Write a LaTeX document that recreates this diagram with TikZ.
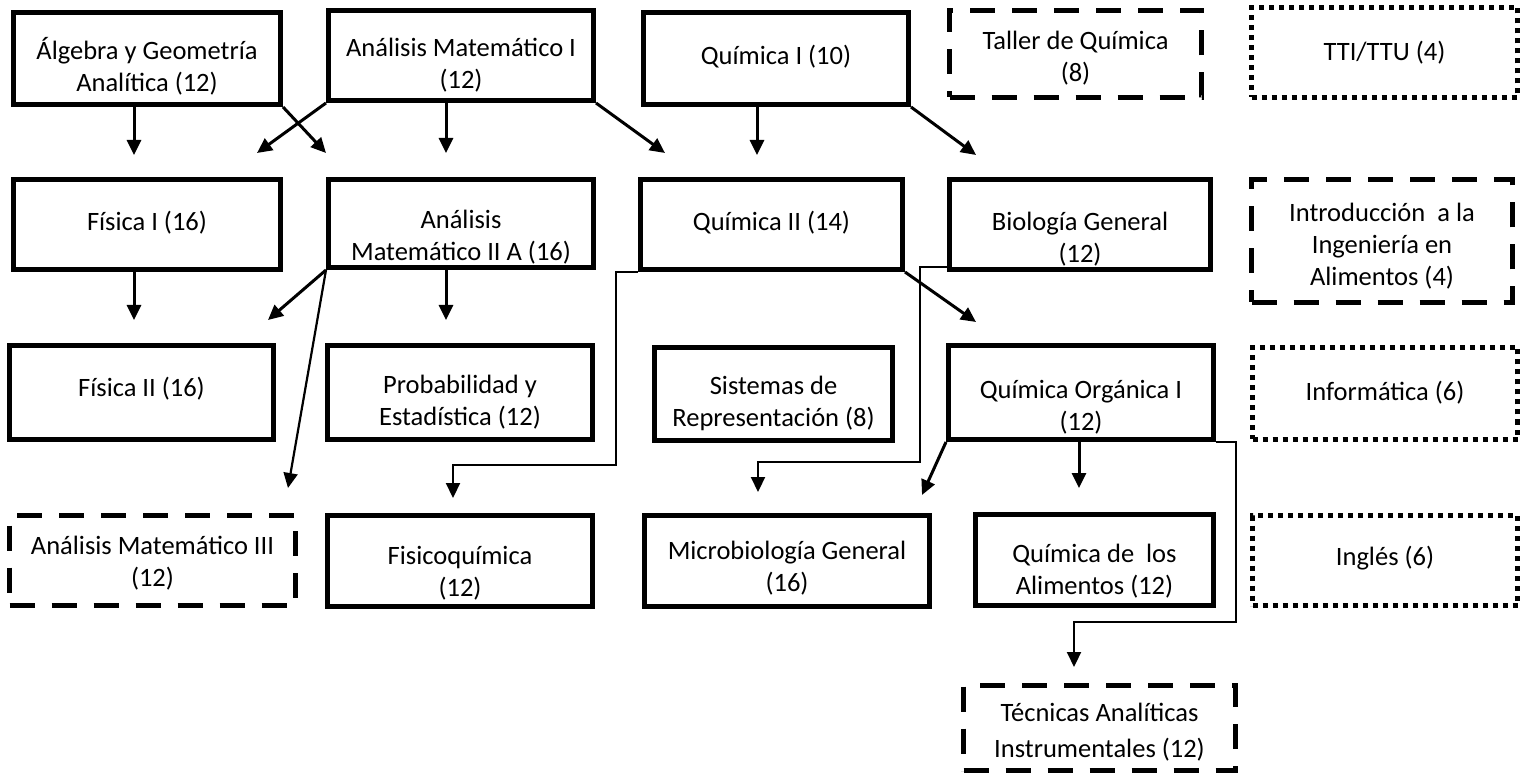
\documentclass[tikz,border=0pt]{standalone}
\usepackage{fontspec}
\setmainfont{Carlito}
\usetikzlibrary{arrows.meta,calc}
\tikzset{
  box/.style={draw=black,line width=5pt,rectangle,inner sep=0pt},
  dashbox/.style={box,dash pattern=on 25pt off 17pt},
  dotbox/.style={box,dash pattern=on 5pt off 5pt},
  txt/.style={align=center,inner sep=0pt,font=\fontsize{26.5}{32}\selectfont},
  arr/.style={line width=3pt,-{Triangle[length=15pt,width=14pt]}},
  elb/.style={line width=2.2pt,-{Triangle[length=15pt,width=14pt]}},
}
% \course{name}{x1}{y1}{x2}{y2}{style}{text center y}{text}
\newcommand{\course}[8]{%
  \node[#6,minimum width={#4-#2-5pt},minimum height={#5-#3-5pt}] (#1) at ({(#2+#4)/2},{(#3+#5)/2}) {};
  \node[txt] (#1t) at ({(#2+#4)/2},#7) {#8};
}
\begin{document}
\begin{tikzpicture}[x=1pt,y=-1pt]
\path[use as bounding box,fill=white] (0,0) rectangle (1529,775);
% row 1
\course{alg}{11}{10}{283}{107}{box}{66}{Álgebra y Geometría\\Analítica (12)}
\course{amA}{326}{8}{596}{103}{box}{65}{Análisis Matemático I\\(12)}
\course{qA}{641}{10}{911}{107}{box}{57}{Química I (10)}
\course{tal}{947}{8}{1204}{100}{dashbox}{58}{Taller de Química\\(8)}
\course{tti}{1249}{5}{1520}{100}{dotbox}{53}{TTI/TTU (4)}
% row 2
\course{fA}{11}{177}{283}{272}{box}{223}{Física I (16)}
\course{amB}{326}{177}{596}{270}{box}{237}{Análisis\\Matemático II A (16)}
\course{qB}{638}{177}{905}{272}{box}{223}{Química II (14)}
\course{bio}{947}{177}{1213}{272}{box}{239}{Biología General\\(12)}
\course{intro}{1249}{177}{1515}{305}{dashbox}{246}{Introducción\ \ a la\\Ingeniería en\\Alimentos (4)}
% row 3
\course{fB}{7}{343}{276}{442}{box}{389}{Física II (16)}
\course{prob}{325}{343}{595}{442}{box}{402}{Probabilidad y\\Estadística (12)}
\course{sis}{652}{345}{895}{443}{box}{403}{Sistemas de\\Representación (8)}
\course{qo}{946}{343}{1216}{442}{box}{407}{Química Orgánica I\\(12)}
\course{inf}{1250}{345}{1520}{442}{dotbox}{393}{Informática (6)}
% row 4
\course{amC}{7}{513}{298}{608}{dashbox}{563}{Análisis Matemático III\\(12)}
\course{fq}{325}{513}{595}{609}{box}{573}{Fisicoquímica\\(12)}
\course{mic}{642}{513}{932}{609}{box}{568}{Microbiología General\\(16)}
\course{qal}{973}{512}{1216}{608}{box}{571}{Química de\ \ los\\Alimentos (12)}
\course{ing}{1250}{513}{1520}{608}{dotbox}{558}{Inglés (6)}
% row 5
\course{tec}{961}{683}{1238}{773}{dashbox}{732}{Técnicas Analíticas\\[4pt]Instrumentales (12)}
% free arrow ends
\coordinate (e1) at (134,155);
\coordinate (e2) at (257,153);
\coordinate (e3) at (326,153);
\coordinate (e4) at (446,153);
\coordinate (e5) at (665,153);
\coordinate (e6) at (757,155);
\coordinate (e7) at (976,155);
\coordinate (e8) at (134,320);
\coordinate (e9) at (268,320);
\coordinate (e10) at (288,488);
\coordinate (e11) at (446,320);
\coordinate (e12) at (976,322);
\coordinate (e13) at (922,495);
\coordinate (e14) at (1079,488);
\coordinate (e15) at (453,498);
\coordinate (e16) at (758,492);
\coordinate (e17) at (1074,667);
% straight arrows
\draw[arr] (alg.south -| e1) -- (e1);
\draw[arr] (amA.south west) -- (e2);
\draw[arr] (alg.south east) -- (e3);
\draw[arr] (amA.south -| e4) -- (e4);
\draw[arr] (amA.south east) -- (e5);
\draw[arr] (qA.south -| e6) -- (e6);
\draw[arr] (qA.south east) -- (e7);
\draw[arr] (fA.south -| e8) -- (e8);
\draw[arr] (amB.south west) -- (e9);
\draw[elb] (amB.south west) -- (e10);
\draw[arr] (amB.south -| e11) -- (e11);
\draw[arr] (qB.south east) -- (e12);
\draw[arr] (qo.south west) -- (e13);
\draw[arr] (qo.south -| e14) -- (e14);
% elbow connectors
\draw[elb] (qB.south west) -- (616,272) -- (616,465) -- (453,465) -- (e15);
\draw[elb] (bio.west |- 0,267) -- (920,267) -- (920,462) -- (758,462) -- (e16);
\draw[elb] (qo.south east) -- (1236,442) -- (1236,622) -- (1074,622) -- (e17);
\end{tikzpicture}
\end{document}
